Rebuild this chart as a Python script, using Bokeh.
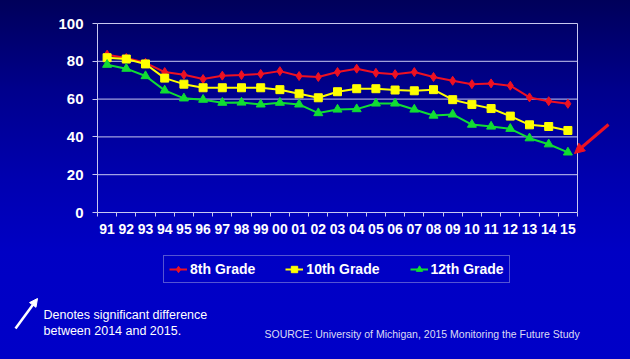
from bokeh.plotting import figure
from bokeh.layouts import column
from bokeh.models import (Range1d, FixedTicker, Legend, LegendItem, Label,
                          Arrow, NormalHead)
from bokeh.embed import file_html
from bokeh.resources import INLINE

# ---------------- data ----------------
years = ["91", "92", "93", "94", "95", "96", "97", "98", "99", "00", "01", "02", "03",
         "04", "05", "06", "07", "08", "09", "10", "11", "12", "13", "14", "15"]
grade8 = [83.5, 81.8, 79.2, 74.3, 72.9, 70.6, 72.4, 72.7, 73.3, 74.8, 72.2, 71.7, 74.3,
          76.1, 73.9, 73.2, 74.3, 71.7, 69.7, 67.9, 68.3, 67.1, 60.9, 58.9, 57.5]
grade10 = [81.9, 81.2, 78.6, 71.1, 67.9, 66.0, 66.0, 66.0, 66.0, 65.0, 62.8, 60.7, 63.9,
           65.5, 65.5, 64.8, 64.4, 65.0, 59.7, 57.2, 55.0, 51.0, 46.4, 45.5, 43.4]
grade12 = [78.2, 76.1, 72.2, 64.6, 60.4, 59.7, 58.1, 58.2, 57.2, 58.1, 57.2, 52.6, 54.5,
           54.7, 57.7, 57.7, 54.5, 51.3, 51.9, 46.5, 45.5, 44.3, 39.3, 36.1, 31.8]
y_ticks = [0, 20, 40, 60, 80, 100]
series_names = ["8th Grade", "10th Grade", "12th Grade"]

# ---------------- layout (page pixels; page margin is 0) ----------------
W = 630
H_TOP = 245
H_BOT = 359 - H_TOP
F_LEFT, F_TOP, F_BOT = 97, 18, 212      # frame edges of the chart
PX_X = 19.2                             # pixels per category
PX_Y = 1.89                             # pixels per percent
N = len(years)
centers = [i + 0.5 for i in range(N)]

x_end = (W - F_LEFT) / PX_X
y_end = (F_BOT - F_TOP) / PX_Y

def dx(px):
    return (px - F_LEFT) / PX_X
def dy(py):
    return (F_BOT - py) / PX_Y

GRID = "#c8c8f0"
RED = "#ee1122"
YEL = "#ffff00"
GRN = "#11dd33"
FONT = "Liberation Sans"

p = figure(width=W, height=H_TOP, output_backend="svg", toolbar_location=None,
           x_range=Range1d(0, x_end), y_range=Range1d(0, y_end),
           min_border_left=F_LEFT, min_border_right=0,
           min_border_top=F_TOP, min_border_bottom=H_TOP - F_BOT)
p.frame_align = False
p.background_fill_alpha = 0
p.border_fill_alpha = 0
p.outline_line_color = None
p.xgrid.grid_line_color = None
p.ygrid.grid_line_color = None

# y axis
p.yaxis.ticker = FixedTicker(ticks=y_ticks)
p.yaxis.bounds = (y_ticks[0], y_ticks[-1])
p.yaxis.axis_line_color = GRID
p.yaxis.major_tick_line_color = GRID
p.yaxis.major_tick_out = 5
p.yaxis.major_tick_in = 0
p.yaxis.minor_tick_line_color = None
p.yaxis.major_label_text_color = "white"
p.yaxis.major_label_text_font = FONT
p.yaxis.major_label_text_font_style = "bold"
p.yaxis.major_label_text_font_size = "15px"
p.yaxis.major_label_standoff = 9

# x axis
p.xaxis.ticker = FixedTicker(ticks=centers, minor_ticks=list(range(N + 1)))
p.xaxis.bounds = (0, N)
p.xaxis.major_label_overrides = {c: y for c, y in zip(centers, years)}
p.xaxis.axis_line_color = GRID
p.xaxis.major_tick_line_color = None
p.xaxis.minor_tick_line_color = GRID
p.xaxis.minor_tick_out = 4
p.xaxis.minor_tick_in = 0
p.xaxis.major_label_text_color = "white"
p.xaxis.major_label_text_font = FONT
p.xaxis.major_label_text_font_style = "bold"
p.xaxis.major_label_text_font_size = "14px"
p.xaxis.major_label_standoff = 5

# gridlines and right border of the plot area (stop at the last category)
p.segment(x0=[0] * len(y_ticks), x1=[N] * len(y_ticks), y0=y_ticks, y1=y_ticks,
          line_color=GRID, line_width=1)
p.segment(x0=[N], x1=[N], y0=[y_ticks[0]], y1=[y_ticks[-1]], line_color=GRID, line_width=1)

# series
styles = [dict(color=RED, marker="diamond", size=9),
          dict(color=YEL, marker="square", size=8),
          dict(color=GRN, marker="triangle", size=9)]
series = [grade8, grade10, grade12]
for vals, st in zip(series, styles):
    p.line(centers, vals, line_color=st["color"], line_width=2)
    p.scatter(centers, vals, marker=st["marker"], size=st["size"],
              fill_color=st["color"], line_color=st["color"])

# red arrow pointing to the 2015 12th grade point
p.add_layout(Arrow(end=NormalHead(size=10, fill_color=RED, line_color=RED),
                   x_start=dx(608), y_start=dy(124), x_end=dx(574), y_end=dy(153),
                   line_color=RED, line_width=3))

# ---------------- bottom strip: legend + notes (data units = page pixels) ----------------
p2 = figure(width=W, height=H_BOT, output_backend="svg", toolbar_location=None,
            x_range=Range1d(0, W), y_range=Range1d(359, H_TOP),
            x_axis_location=None, y_axis_location=None,
            min_border=0, min_border_left=0, min_border_right=0,
            min_border_top=0, min_border_bottom=0)
p2.frame_align = False
p2.background_fill_alpha = 0
p2.border_fill_alpha = 0
p2.outline_line_color = None
p2.grid.grid_line_color = None

# legend keys: same series, drawn outside this strip's visible range
items = []
for name, vals, st in zip(series_names, series, styles):
    r_line = p2.line(centers, vals, line_color=st["color"], line_width=2)
    r_mark = p2.scatter(centers, vals, marker=st["marker"], size=st["size"] - 1,
                        fill_color=st["color"], line_color=st["color"])
    items.append(LegendItem(label=name, renderers=[r_line, r_mark]))

legend = Legend(items=items,
                orientation="horizontal", location=(163, 359 - 283),
                padding=5, spacing=30, glyph_width=18, glyph_height=16,
                label_height=16, label_standoff=3, margin=0,
                border_line_color="#a8a8e0", border_line_width=1,
                background_fill_alpha=0,
                label_text_color="white", label_text_font=FONT,
                label_text_font_style="bold", label_text_font_size="14px")
p2.add_layout(legend)

p2.add_layout(Arrow(end=NormalHead(size=8, fill_color="white", line_color="white"),
                    x_start=15, y_start=328, x_end=37, y_end=298,
                    line_color="white", line_width=2.5))

p2.add_layout(Label(x=43, y=314, text="Denotes significant difference",
                    text_color="white", text_font=FONT, text_font_size="12.5px",
                    text_baseline="middle", text_align="left"))
p2.add_layout(Label(x=43, y=330, text="between 2014 and 2015.",
                    text_color="white", text_font=FONT, text_font_size="12.5px",
                    text_baseline="middle", text_align="left"))
p2.add_layout(Label(x=264, y=333,
                    text="SOURCE: University  of Michigan, 2015 Monitoring the Future Study",
                    text_color="#dcdcf4", text_font=FONT, text_font_size="10.5px",
                    text_baseline="middle", text_align="left"))

layout = column(p, p2, spacing=0)

html = file_html(layout, INLINE, title="Monitoring the Future")
style = ("<style>html{min-height:100%;background:linear-gradient(to bottom,"
         "#00005a 0%,#00008c 25%,#0000b0 50%,#0000c4 70%,#0000c8 100%);}"
         "body{background:transparent;}</style>")
html = html.replace("</head>", style + "</head>", 1)
open("out.html", "w").write(html)
